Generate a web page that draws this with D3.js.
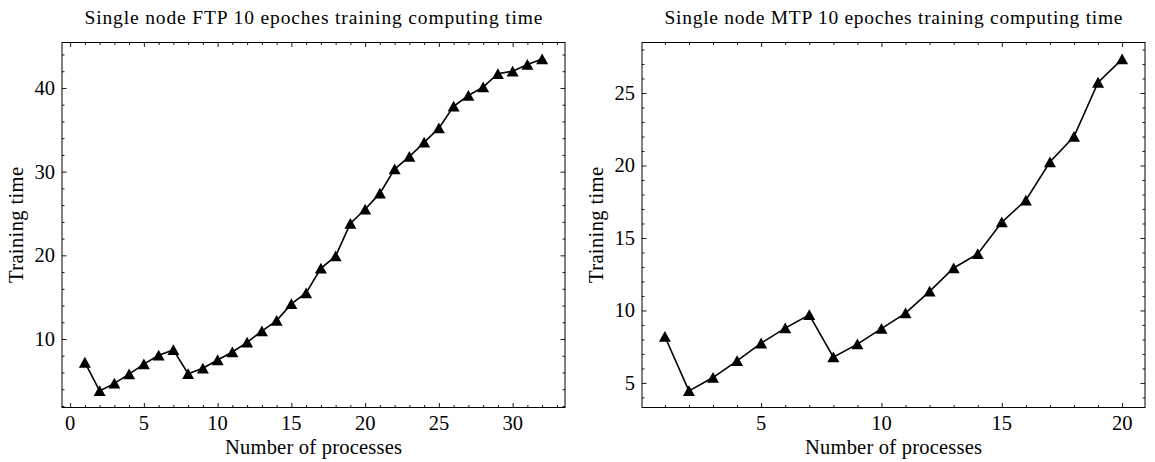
<!DOCTYPE html>
<html>
<head>
<meta charset="utf-8">
<script src="https://cdn.jsdelivr.net/npm/d3@7"></script>
<style>
  body { margin: 0; background: #fff; }
  svg text { font-family: "Liberation Serif", "DejaVu Serif", serif; fill: #000; }
</style>
</head>
<body>
<div id="chart"></div>
<script>
// FTP run: 1..32 processes
const ftpProcs = d3.range(1, 33)
const ftpTimes = [7.2, 3.8, 4.7, 5.8, 7.0, 8.05, 8.7, 5.85, 6.5, 7.5, 8.45, 9.6, 10.95, 12.2, 14.2, 15.5,
    18.45, 19.9, 23.8, 25.5, 27.4, 30.3, 31.8, 33.5, 35.2, 37.8, 39.1, 40.1, 41.7, 42.0, 42.8, 43.45]
const ftpXTicks = [0, 5, 10, 15, 20, 25, 30]
const ftpYTicks = [10, 20, 30, 40]

// MTP run: 1..20 processes
const mtpProcs = d3.range(1, 21)
const mtpTimes = [8.2, 4.45, 5.37, 6.52, 7.74, 8.78, 9.7, 6.78, 7.68, 8.75, 9.82, 11.32, 12.93, 13.9,
    16.09, 17.6, 20.24, 22.0, 25.73, 27.34]
const mtpXTicks = [5, 10, 15, 20]
const mtpYTicks = [5, 10, 15, 20, 25]

const titles = ["Single node FTP 10 epoches training computing time", "Single node MTP 10 epoches training computing time"]
const xLabel = "Number of processes"
const yLabel = "Training time"

const W = 1155, H = 462
const svg = d3.select("#chart").append("svg").attr("width", W).attr("height", H)

// matplotlib-ish autoscale: 5% padding
const pad = ext => { const r = ext[1] - ext[0]; return [ext[0] - r * 0.05, ext[1] + r * 0.05] }

function panel(opts) {
    const { left, right, top, bottom, xs, ys, xTicks, yTicks, xMinor, yMinor, title } = opts
    const g = svg.append("g")
    const x = d3.scaleLinear().domain(pad(d3.extent(xs))).range([left, right])
    const y = d3.scaleLinear().domain(pad(d3.extent(ys))).range([bottom, top])
    const data = xs.map((v, i) => ({ x: v, y: ys[i] }))

    const xMin = d3.range(Math.ceil(x.domain()[0] / xMinor) * xMinor, x.domain()[1], xMinor).filter(v => !xTicks.includes(v))
    const yMin = d3.range(Math.ceil(y.domain()[0] / yMinor) * yMinor, y.domain()[1], yMinor).filter(v => !yTicks.includes(v))

    // inward ticks on all four sides
    const addAxis = (axis, transform, ticks, len) => g.append("g")
        .attr("transform", transform)
        .call(axis.tickValues(ticks).tickSizeInner(-len).tickSizeOuter(0).tickFormat(""))
        .call(a => a.select(".domain").remove())
        .call(a => a.selectAll("line").attr("stroke", "#000").attr("stroke-width", 0.9))

    ;[[xTicks, 4.5], [xMin, 2.5]].forEach(([t, l]) => {
        addAxis(d3.axisBottom(x), `translate(0,${bottom})`, t, l)
        addAxis(d3.axisTop(x), `translate(0,${top})`, t, l)
    })
    ;[[yTicks, 4.5], [yMin, 2.5]].forEach(([t, l]) => {
        addAxis(d3.axisLeft(y), `translate(${left},0)`, t, l)
        addAxis(d3.axisRight(y), `translate(${right},0)`, t, l)
    })

    g.append("rect")
        .attr("x", left).attr("y", top)
        .attr("width", right - left).attr("height", bottom - top)
        .attr("fill", "none").attr("stroke", "#000").attr("stroke-width", 1)

    // tick labels
    g.selectAll("text.xt").data(xTicks).enter().append("text")
        .attr("x", d => x(d)).attr("y", bottom + 22)
        .attr("text-anchor", "middle").attr("font-size", 20.5).text(d => d)
    g.selectAll("text.yt").data(yTicks).enter().append("text")
        .attr("x", left - 7).attr("y", d => y(d) + 7)
        .attr("text-anchor", "end").attr("font-size", 20.5).text(d => d)

    g.append("text").attr("x", (left + right) / 2).attr("y", 24)
        .attr("text-anchor", "middle").attr("font-size", 19.5)
        .attr("textLength", 458).attr("lengthAdjust", "spacing").text(title)
    g.append("text").attr("x", (left + right) / 2).attr("y", 454)
        .attr("text-anchor", "middle").attr("font-size", 20.5)
        .attr("textLength", 177).attr("lengthAdjust", "spacing").text(xLabel)
    g.append("text")
        .attr("transform", `translate(${left - 39},${(top + bottom) / 2}) rotate(-90)`)
        .attr("text-anchor", "middle").attr("font-size", 20.5)
        .attr("textLength", 116).attr("lengthAdjust", "spacing").text(yLabel)

    g.append("path").datum(data)
        .attr("fill", "none").attr("stroke", "#000").attr("stroke-width", 1.6)
        .attr("d", d3.line().x(d => x(d.x)).y(d => y(d.y)))

    g.selectAll("path.mark").data(data).enter().append("path")
        .attr("class", "mark")
        .attr("transform", d => `translate(${x(d.x)},${y(d.y)})`)
        .attr("d", "M0,-5.6L6,5.2L-6,5.2Z")
        .attr("fill", "#000")
}

panel({ left: 62, right: 565, top: 42.5, bottom: 407.5, xs: ftpProcs, ys: ftpTimes,
    xTicks: ftpXTicks, yTicks: ftpYTicks, xMinor: 1, yMinor: 2, title: titles[0] })
panel({ left: 642, right: 1145, top: 42.5, bottom: 407.5, xs: mtpProcs, ys: mtpTimes,
    xTicks: mtpXTicks, yTicks: mtpYTicks, xMinor: 1, yMinor: 1, title: titles[1] })
</script>
</body>
</html>
